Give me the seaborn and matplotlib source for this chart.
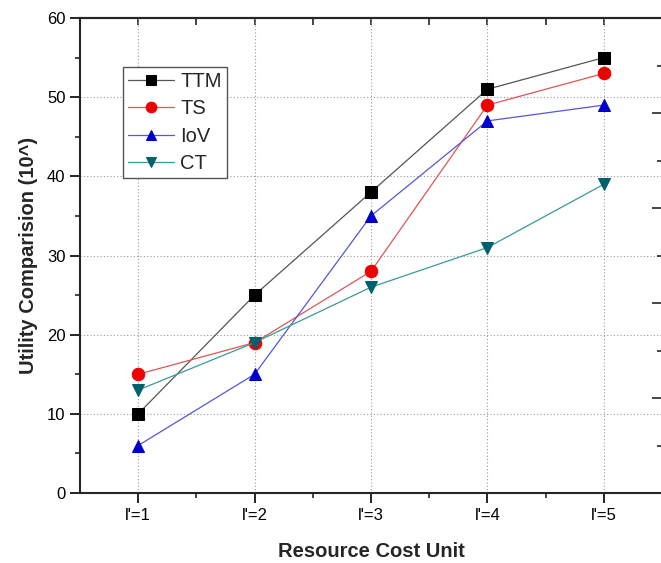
import numpy as np
import pandas as pd
import matplotlib
matplotlib.use("Agg")
import matplotlib.pyplot as plt
from matplotlib.ticker import MultipleLocator, FixedLocator
import seaborn as sns

# Values
levels = ["l'=1", "l'=2", "l'=3", "l'=4", "l'=5"]
ttm = [10, 25, 38, 51, 55]
ts = [15, 19, 28, 49, 53]
iov = [6, 15, 35, 47, 49]
ct = [13, 19, 26, 31, 39]

series = {"TTM": ttm, "TS": ts, "IoV": iov, "CT": ct}
markers = {"TTM": "s", "TS": "o", "IoV": "^", "CT": "v"}
marker_colors = {"TTM": "#000000", "TS": "#ee0000", "IoV": "#0000cc", "CT": "#00606e"}
line_colors = {"TTM": "#555555", "TS": "#e05555", "IoV": "#5555dd", "CT": "#3a9a9a"}

rows = []
for name, vals in series.items():
    for i, v in enumerate(vals):
        rows.append({"x": i + 1, "value": v, "series": name})
df = pd.DataFrame(rows)

sns.set_style("ticks")
plt.rcParams["font.family"] = ["Liberation Sans", "DejaVu Sans"]

fig = plt.figure(figsize=(6.61, 5.63), dpi=100)
ax = fig.add_axes([80 / 661, 70 / 563, 582 / 661, 475 / 563])

for name in series:
    sub = df[df["series"] == name]
    sns.lineplot(data=sub, x="x", y="value", ax=ax, color=line_colors[name],
                 linewidth=0.9, marker=markers[name], markersize=9,
                 markerfacecolor=marker_colors[name], markeredgecolor=marker_colors[name],
                 label=name)

ax.set_xlim(0.5, 5.5)
ax.set_ylim(0, 60)
ax.set_xticks(range(1, 6))
ax.set_xticklabels(levels)
ax.xaxis.set_minor_locator(FixedLocator([1.5, 2.5, 3.5, 4.5]))
ax.yaxis.set_major_locator(MultipleLocator(10))
ax.yaxis.set_minor_locator(MultipleLocator(5))

ax.grid(True, which="major", linestyle=(0, (1, 2)), color="#999999", linewidth=0.8)

for side in ["left", "bottom", "top"]:
    ax.spines[side].set_linewidth(1.5)
ax.spines["right"].set_visible(False)

ax.tick_params(axis="both", which="major", labelsize=12, width=1.2, length=7,
               direction="out", colors="black")
ax.tick_params(axis="both", which="minor", width=1.2, length=3.5, direction="out")
ax.tick_params(axis="y", which="both", right=False)

# top ticks point inward
axt = ax.secondary_xaxis("top")
axt.set_xticks(range(1, 6))
axt.xaxis.set_minor_locator(FixedLocator([1.5, 2.5, 3.5, 4.5]))
axt.tick_params(axis="x", which="both", direction="in", length=5, width=1.2, labeltop=False)
axt.spines["top"].set_linewidth(1.5)
ax.tick_params(axis="x", which="both", top=False)

# right side ticks (other scale, partly cropped)
axr = ax.twinx()
axr.set_ylim(0, 60)
axr.yaxis.set_major_locator(FixedLocator([12, 24, 36, 48]))
axr.yaxis.set_minor_locator(FixedLocator([6, 18, 30, 42, 54]))
axr.tick_params(axis="y", which="major", direction="in", length=7, width=1.2, labelright=False)
axr.tick_params(axis="y", which="minor", direction="in", length=3.5, width=1.2)
for side in axr.spines:
    axr.spines[side].set_visible(False)

ax.set_xlabel("Resource Cost Unit", fontsize=14.5, fontweight="bold", labelpad=14)
ax.set_ylabel("Utility Comparision (10^)", fontsize=14.5, fontweight="bold", labelpad=6)

leg = ax.legend(loc="upper left", bbox_to_anchor=(43 / 582, 1 - 49 / 475),
                fontsize=14.5, frameon=True, fancybox=False, framealpha=1,
                edgecolor="#555555", borderpad=0.25, labelspacing=0.42,
                handlelength=2.3, handletextpad=0.3, borderaxespad=0, markerscale=0.85)
leg.get_frame().set_linewidth(1.0)

fig.savefig("out.png", dpi=100)
